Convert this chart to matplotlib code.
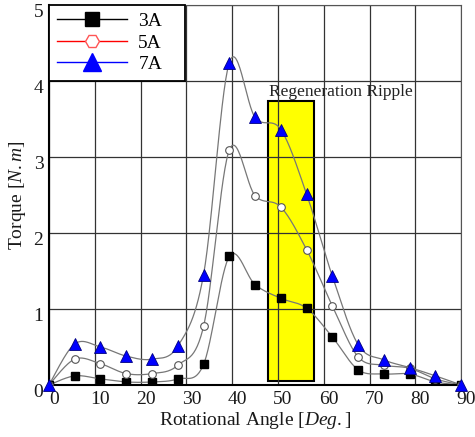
import numpy as np
import matplotlib.pyplot as plt
from matplotlib.lines import Line2D
from matplotlib.patches import Rectangle
from matplotlib.transforms import ScaledTranslation

plt.rcParams['font.family'] = ['Liberation Serif', 'DejaVu Serif']
plt.rcParams['mathtext.fontset'] = 'custom'
plt.rcParams['mathtext.rm'] = 'Liberation Serif'
plt.rcParams['mathtext.it'] = 'Liberation Serif:italic'

# rotational angle, 17 steps over 90 deg
angle = [0, 5.625, 11.25, 16.875, 22.5, 28.125, 33.75, 39.375, 45,
         50.625, 56.25, 61.875, 67.5, 73.125, 78.75, 84.375, 90]
torque_3a = [0, 0.12, 0.08, 0.04, 0.04, 0.08, 0.27, 1.69, 1.32,
             1.14, 1.01, 0.63, 0.20, 0.145, 0.145, 0.04, 0]
torque_5a = [0, 0.34, 0.28, 0.15, 0.15, 0.26, 0.77, 3.09, 2.49,
             2.34, 1.78, 1.04, 0.37, 0.26, 0.22, 0.08, 0]
torque_7a = [0, 0.54, 0.50, 0.38, 0.34, 0.51, 1.45, 4.24, 3.52,
             3.36, 2.51, 1.43, 0.53, 0.33, 0.23, 0.12, 0]
labels = ['3A', '5A', '7A']
ripple_span = (47.8, 57.9)
ripple_top = 3.73


def smooth(x, y, n=30):
    # bezier smoothing like a spreadsheet "smoothed line"
    p = np.column_stack([x, y]).astype(float)
    p = np.vstack([p[0], p, p[-1]])
    t = np.linspace(0, 1, n)[:, None]
    out = []
    for i in range(1, len(p) - 2):
        p0, p1, p2, p3 = p[i - 1], p[i], p[i + 1], p[i + 2]
        c1 = p1 + (p2 - p0) / 6
        c2 = p2 - (p3 - p1) / 6
        seg = ((1 - t) ** 3) * p1 + 3 * ((1 - t) ** 2) * t * c1 \
            + 3 * (1 - t) * t ** 2 * c2 + t ** 3 * p2
        out.append(seg)
    out = np.vstack(out)
    return out[:, 0], out[:, 1]


fig = plt.figure(figsize=(4.75, 4.37), dpi=100)
ax = fig.add_axes([0.103, 0.119, 0.868, 0.870])

ax.add_patch(Rectangle((ripple_span[0], 0.05), ripple_span[1] - ripple_span[0],
                       ripple_top - 0.05, facecolor='#ffff00',
                       edgecolor='black', linewidth=1.5, zorder=1))
ax.text(ripple_span[0] + 0.3, ripple_top + 0.02, 'Regeneration Ripple',
        fontsize=12.5, va='bottom', ha='left', color='#222222')

for ys in (torque_3a, torque_5a, torque_7a):
    sx, sy = smooth(angle, ys)
    ax.plot(sx, sy, color='#777777', linewidth=0.9, zorder=2)

ax.plot(angle, torque_3a, linestyle='none', marker='s', markersize=5.5,
        color='black', zorder=3)
ax.plot(angle, torque_5a, linestyle='none', marker='o', markersize=5.5,
        markerfacecolor='white', markeredgecolor='#555555',
        markeredgewidth=0.8, zorder=3)
ax.plot(angle, torque_7a, linestyle='none', marker='^', markersize=8,
        markerfacecolor='#0000ff', markeredgecolor='#000080',
        markeredgewidth=0.6, zorder=4, clip_on=False)

ax.set_xlim(0, 90)
ax.set_ylim(0, 5)
ax.set_xticks(range(0, 91, 10))
ax.set_yticks(range(0, 6))
ax.grid(True, color='#333333', linewidth=0.9)
ax.tick_params(length=0, labelsize=14, colors='#1a1a1a', pad=4)
for s in ax.spines.values():
    s.set_color('#555555')
ax.spines['left'].set_color('black')
ax.spines['bottom'].set_color('black')
ax.spines['left'].set_linewidth(1.5)
ax.spines['bottom'].set_linewidth(1.5)

# tick labels sit a little off their grid lines in the original
dx = ScaledTranslation(5 / 100, 0, fig.dpi_scale_trans)
dy = ScaledTranslation(0, -6 / 100, fig.dpi_scale_trans)
for lab in ax.get_xticklabels():
    lab.set_transform(lab.get_transform() + dx)
for lab in ax.get_yticklabels():
    lab.set_transform(lab.get_transform() + dy)

ax.set_xlabel('Rotational Angle [$\\mathit{Deg.}$]', fontsize=14,
              color='#1a1a1a', labelpad=2)
ax.set_ylabel('Torque [$\\mathit{N.m}$]', fontsize=14, color='#1a1a1a',
              labelpad=4)

handles = [
    Line2D([], [], color='black', linewidth=1, marker='s', markersize=9.5,
           markerfacecolor='black'),
    Line2D([], [], color='red', linewidth=1, marker='H', markersize=10,
           markerfacecolor='white', markeredgecolor='#ff5555'),
    Line2D([], [], color='blue', linewidth=1, marker='^', markersize=13,
           markerfacecolor='blue', markeredgecolor='blue'),
]
leg = ax.legend(handles, labels, loc='upper left', fontsize=14,
                bbox_to_anchor=(0, 0.8, 0.33, 0.2), mode='expand',
                borderaxespad=0, fancybox=False, framealpha=1,
                edgecolor='black', handlelength=3.6, labelspacing=0.2,
                borderpad=0.4, handletextpad=0.6)
leg.get_frame().set_linewidth(1.3)
leg.set_zorder(5)

fig.savefig('out.png', dpi=100)
